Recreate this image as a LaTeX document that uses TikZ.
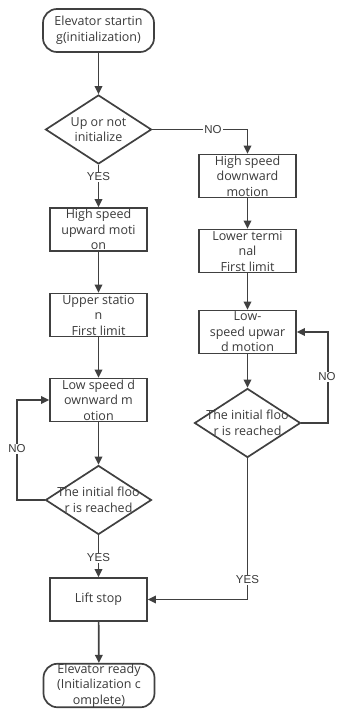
\documentclass[tikz,border=0pt]{standalone}
\usepackage{fontspec}
\setmainfont{Open Sans}
\newfontfamily\lblfont{Liberation Sans}
\usetikzlibrary{shapes.geometric,arrows.meta}
\definecolor{linec}{HTML}{404040}
\definecolor{textc}{HTML}{3a3a3a}
\begin{document}
\begin{tikzpicture}[x=1pt,y=-1pt,
  proc/.style={draw=linec, line width=1.7pt, minimum width=97pt, minimum height=43pt, inner sep=0pt, align=center, font=\fontsize{12.5}{15.5}\selectfont, text=textc},
  term/.style={proc, rounded corners=14pt, minimum width=111pt},
  dec/.style={draw=linec, line width=1.7pt, diamond, minimum width=106pt, minimum height=69pt, inner sep=0pt},
  dtext/.style={align=center, font=\fontsize{12.5}{15.5}\selectfont, text=textc, inner sep=0pt},
  arr/.style={draw=linec, line width=1.7pt, -{Triangle[length=8pt,width=7.5pt]}},
  lbl/.style={fill=white, inner sep=1pt, font=\lblfont\fontsize{11.5}{12}\selectfont, text=textc}
]
\useasboundingbox (0,0) rectangle (337,711);
\fill[white] (0,0) rectangle (337,711);

\node[term] (s) at (98.5,30.5) {Elevator startin\\g(initialization)};
\node[dec] (d1) at (98.5,129.5) {};
\node[dtext] (d1t) at (98.5,129.5) {Up or not\\initialize};
\node[proc] (l1) at (98.5,229.5) {High speed\\upward moti\\on};
\node[proc] (l2) at (98.5,315) {Upper statio\\n\\First limit};
\node[proc] (l3) at (98.5,400) {Low speed d\\ownward m\\otion};
\node[dec] (d2) at (98.5,500) {};
\node[dtext] (d2t) at (98.5,500) {The initial floo\\r is reached};
\node[proc] (stop) at (98.5,599.5) {Lift stop};
\node[term] (e) at (99,685.5) {Elevator ready\\(Initialization c\\omplete)};

\node[proc] (r1) at (247.5,176) {High speed\\downward\\motion};
\node[proc] (r2) at (247.5,251) {Lower termi\\nal\\First limit};
\node[proc] (r3) at (247.5,332) {Low-\\speed upwar\\d motion};
\node[dec] (d3) at (247.5,423) {};
\node[dtext] (d3t) at (247.5,423) {The initial floo\\r is reached};

\coordinate (c1) at (17,500);
\coordinate (c2) at (328,423);

\draw[arr] (s) -- (d1);
\draw[arr] (d1.east) -| (r1.north);
\node[lbl] (no1) at (213,129.5) {NO};
\draw[arr] (d1) -- (l1);
\node[lbl] (yes1) at (98.5,177) {YES};
\draw[arr] (l1) -- (l2);
\draw[arr] (l2) -- (l3);
\draw[arr] (l3) -- (d2);
\draw[arr] (d2) -- (stop);
\node[lbl] (yes2) at (98.5,558) {YES};
\draw[arr] (stop) -- (e);
\draw[arr] (d2.west) -- (c1) |- (l3.west);
\node[lbl] (no2) at (17,449) {NO};

\draw[arr] (r1) -- (r2);
\draw[arr] (r2) -- (r3);
\draw[arr] (r3) -- (d3);
\draw[arr] (d3.east) -- (c2) |- (r3.east);
\node[lbl] (no3) at (327,377) {NO};
\draw[arr] (d3.south) |- (stop.east);
\node[lbl] (yes3) at (247.5,580) {YES};
\end{tikzpicture}
\end{document}
